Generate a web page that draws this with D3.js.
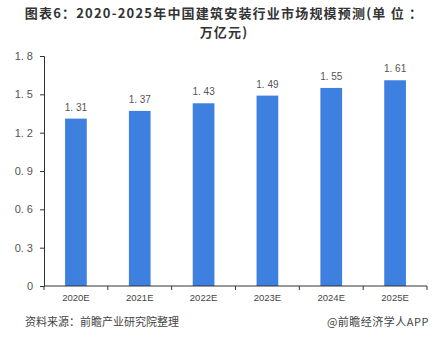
<!DOCTYPE html>
<html>
<head>
<meta charset="utf-8">
<script src="https://cdn.jsdelivr.net/npm/d3@7/dist/d3.min.js"></script>
<style>
  html, body { margin: 0; padding: 0; background: #fff; }
  svg { display: block; }
</style>
</head>
<body>
<svg id="chart" width="445" height="341"></svg>
<script>
// Market size forecast, trillion yuan
const years = ["2020E", "2021E", "2022E", "2023E", "2024E", "2025E"];
const values = [1.31, 1.37, 1.43, 1.49, 1.55, 1.61];
const yTicks = [0, 0.3, 0.6, 0.9, 1.2, 1.5, 1.8];
const titleLines = ["图表6：2020-2025年中国建筑安装行业市场规模预测(单 位 ：", "万亿元)"];
const sourceText = "资料来源：前瞻产业研究院整理";
const creditText = "@前瞻经济学人APP";

const svg = d3.select("#chart");
const font = "'Noto Sans CJK SC', 'Liberation Sans', sans-serif";
const margin = { left: 44, right: 427, top: 56, bottom: 286 };

const x = d3.scaleBand().domain(years).range([margin.left, margin.right]).paddingInner(0.66).paddingOuter(0.33);
const xTicksScale = d3.scaleBand().domain(years).range([margin.left, margin.right]);
const y = d3.scaleLinear().domain([0, 1.8]).range([margin.bottom, margin.top]);

// "1.5" -> "1. 5"
const spaced = s => s.replace(".", ". ");

// Title, two lines
svg.append("g").selectAll("text").data(titleLines).join("text")
  .attr("x", 224).attr("y", (d, i) => 17.5 + i * 19)
  .attr("text-anchor", "middle")
  .attr("font-family", font).attr("font-size", 13).attr("font-weight", "bold")
  .attr("letter-spacing", 1.2)
  .attr("fill", "#333")
  .text(d => d);

// Y axis
const yAxis = svg.append("g")
  .attr("transform", `translate(${margin.left},0)`)
  .call(d3.axisLeft(y).tickValues(yTicks).tickSize(4).tickPadding(7)
    .tickFormat(d => d === 0 ? "0" : spaced(d3.format(".1f")(d))));
yAxis.select(".domain").attr("stroke", "#333");
yAxis.selectAll(".tick line").attr("stroke", "#333");
yAxis.selectAll(".tick text").attr("font-family", "'Liberation Sans', sans-serif")
  .attr("font-size", 11).attr("fill", "#555");

// Bars
svg.append("g").selectAll("rect").data(values).join("rect")
  .attr("x", (d, i) => x(years[i]))
  .attr("y", d => y(d))
  .attr("width", x.bandwidth())
  .attr("height", d => y(0) - y(d))
  .attr("fill", "#3d80df");

// Value labels
svg.append("g").selectAll("text").data(values).join("text")
  .attr("x", (d, i) => x(years[i]) + x.bandwidth() / 2)
  .attr("y", d => y(d) - 8)
  .attr("text-anchor", "middle")
  .attr("font-family", "'Liberation Sans', sans-serif").attr("font-size", 10)
  .attr("fill", "#555")
  .text(d => spaced(d.toFixed(2)));

// X axis with ticks at category boundaries
const xAxisG = svg.append("g").attr("transform", `translate(0,${margin.bottom})`);
xAxisG.append("line")
  .attr("x1", margin.left).attr("x2", margin.right)
  .attr("stroke", "#333");
const boundaries = years.map(d => xTicksScale(d)).concat([margin.right]);
xAxisG.selectAll("line.tick").data(boundaries).join("line")
  .attr("class", "tick")
  .attr("x1", d => d).attr("x2", d => d)
  .attr("y1", 0).attr("y2", 4)
  .attr("stroke", "#333");
xAxisG.selectAll("text").data(years).join("text")
  .attr("x", d => xTicksScale(d) + xTicksScale.bandwidth() / 2)
  .attr("y", 15)
  .attr("text-anchor", "middle")
  .attr("font-family", "'Liberation Sans', sans-serif").attr("font-size", 9.5)
  .attr("fill", "#444")
  .text(d => d);

// Footer
svg.append("text")
  .attr("x", 25).attr("y", 326)
  .attr("font-family", font).attr("font-size", 11).attr("fill", "#444")
  .text(sourceText);
svg.append("text")
  .attr("x", 429).attr("y", 326)
  .attr("text-anchor", "end")
  .attr("font-family", font).attr("font-size", 11).attr("fill", "#444")
  .attr("letter-spacing", 0.5)
  .text(creditText);
</script>
</body>
</html>
